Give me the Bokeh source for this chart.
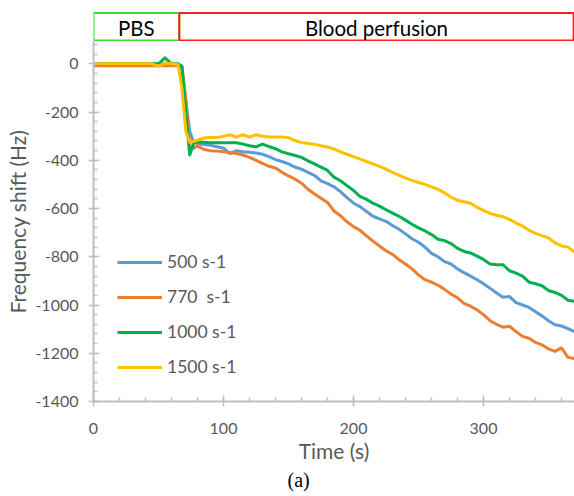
from bokeh.plotting import figure
from bokeh.layouts import column
from bokeh.models import (Range1d, FixedTicker, Legend, LegendItem, Title,
                          PrintfTickFormatter)
from bokeh.embed import file_html
from bokeh.resources import INLINE
from bokeh.core.properties import value

# ---------------- data ----------------
time_s = [0, 5, 10, 15, 20, 25, 30, 35, 40, 45, 50, 55, 60, 65, 68, 71, 74, 77,
          80, 85, 90, 95, 100, 105, 110, 115, 120, 125, 130, 135, 140, 145, 150,
          155, 160, 165, 170, 175, 180, 185, 190, 195, 200, 205, 210, 215, 220,
          225, 230, 235, 240, 245, 250, 255, 260, 265, 270, 275, 280, 285, 290,
          295, 300, 305, 310, 315, 320, 325, 330, 335, 340, 345, 350, 355, 360,
          365, 370]

shift_500 = [0, 0, 0, 0, 0, 0, 0, 0, 0, 0, 0, 0, 0, -2, -20, -150, -280, -325,
             -330, -335, -338, -344, -350, -372, -360, -365, -367, -370, -375, -385, -397, -405, -415,
             -428, -437, -450, -463, -485, -497, -510, -530, -555, -578, -592, -612, -632, -643,
             -653, -670, -686, -705, -725, -740, -760, -786, -800, -820, -830, -850, -866, -880,
             -895, -912, -930, -950, -968, -965, -990, -1000, -1010, -1028, -1045, -1065, -1082, -1087,
             -1098, -1110]

shift_770 = [-8, -8, -8, -8, -8, -8, -8, -8, -8, -8, -8, -8, -8, -8, -10, -150, -340, -350,
             -340, -355, -360, -362, -365, -368, -372, -378, -388, -400, -413, -425, -432, -450, -465,
             -478, -495, -520, -540, -557, -575, -610, -630, -655, -675, -690, -713, -735, -755,
             -775, -790, -812, -830, -850, -875, -895, -905, -918, -935, -955, -970, -993, -1005,
             -1020, -1040, -1065, -1080, -1092, -1088, -1110, -1130, -1138, -1155, -1165, -1182, -1192, -1178,
             -1217, -1222]

shift_1000 = [0, 0, 0, 0, 0, 0, 0, 0, 0, 0, 0, 25, 0, 0, -10, -200, -378, -330,
              -323, -325, -327, -327, -327, -327, -327, -333, -340, -344, -333, -343, -352, -365, -373,
              -380, -388, -402, -415, -428, -442, -470, -485, -505, -525, -550, -562, -578, -590,
              -605, -619, -632, -648, -665, -680, -693, -708, -727, -733, -745, -765, -778, -784,
              -797, -811, -830, -833, -833, -858, -868, -880, -905, -912, -920, -940, -948, -960,
              -980, -985]

shift_1500 = [0, 0, 0, 0, 0, 0, 0, 0, 0, 0, -10, 3, 0, -3, -100, -280, -325, -322,
              -316, -308, -305, -305, -300, -294, -304, -294, -304, -294, -300, -303, -303, -303, -306,
              -318, -326, -330, -334, -340, -345, -353, -365, -375, -385, -395, -405, -415, -425,
              -437, -450, -462, -473, -483, -492, -500, -510, -520, -535, -552, -566, -572, -578,
              -595, -608, -620, -628, -634, -645, -660, -672, -690, -703, -712, -722, -742, -755,
              -760, -780]

series_names = ["500 s-1", "770  s-1", "1000 s-1", "1500 s-1"]
series_colors = ["#5B9BD5", "#ED7D31", "#00B050", "#FFC000"]

x_major_ticks = [0, 100, 200, 300]
x_minor_ticks = list(range(0, 371, 20))
y_major_ticks = [-1400, -1200, -1000, -800, -600, -400, -200, 0]
y_minor_ticks = list(range(-1400, 81, 40))

phase_labels = ["PBS", "Blood perfusion"]
phase_start = [0, 66]
phase_end = [66, 369.3]
phase_colors = ["#33DD33", "#FF1E1E"]

# ---------------- style ----------------
FONT = "Lato"
GREY = "#595959"
AXIS = "#BFBFBF"

x_range = Range1d(0, 370)

# header with the two phase boxes
h = figure(width=574, height=41, output_backend="svg", toolbar_location=None,
           x_range=x_range, y_range=Range1d(0, 41),
           x_axis_location=None, y_axis_location=None,
           min_border_left=93, min_border_right=0, min_border_top=0, min_border_bottom=0)
h.outline_line_color = None
h.grid.visible = False
h.quad(left=phase_start, right=phase_end, bottom=[1, 1], top=[28.5, 28.5],
       fill_color=None, line_color=phase_colors, line_width=2)
h.text(x=[(a + b) / 2 for a, b in zip(phase_start, phase_end)], y=[14, 14],
       text=phase_labels, text_font=value(FONT), text_font_size="20.5px",
       text_color="black", text_align="center", text_baseline="middle")

# main chart
p = figure(width=574, height=455, output_backend="svg", toolbar_location=None,
           x_range=x_range, y_range=Range1d(-1400, 92.5),
           min_border_left=93, min_border_right=0, min_border_top=0, min_border_bottom=95)
p.outline_line_color = None
p.grid.visible = False

for ax, major, minor, bounds in ((p.xaxis[0], x_major_ticks, x_minor_ticks, (0, 370)),
                                 (p.yaxis[0], y_major_ticks, y_minor_ticks, (-1400, 92.5))):
    ax.ticker = FixedTicker(ticks=major, minor_ticks=minor)
    ax.formatter = PrintfTickFormatter(format="%d")
    ax.bounds = bounds
    ax.axis_line_color = AXIS
    ax.axis_line_width = 2
    ax.major_tick_line_color = AXIS
    ax.major_tick_line_width = 1.5
    ax.minor_tick_line_color = AXIS
    ax.minor_tick_line_width = 1.5
    ax.major_tick_in = 6
    ax.major_tick_out = 5
    ax.minor_tick_in = 4
    ax.minor_tick_out = 0
    ax.major_label_text_font = FONT
    ax.major_label_text_font_size = "16px"
    ax.major_label_text_color = GREY
    ax.axis_label_text_font = FONT
    ax.axis_label_text_font_size = "21px"
    ax.axis_label_text_font_style = "normal"
    ax.axis_label_text_color = GREY

p.yaxis.major_label_standoff = 10
p.xaxis.major_label_standoff = 16
p.xaxis.axis_label = "Time (s)"
p.xaxis.axis_label_standoff = 1
p.yaxis.axis_label = "Frequency shift (Hz)"
p.yaxis.axis_label_standoff = 2

series = [shift_500, shift_770, shift_1000, shift_1500]
items = []
for name, col, ys in zip(series_names, series_colors, series):
    r = p.line(time_s, ys, line_color=col, line_width=3, line_join="round")
    items.append(LegendItem(label=name, renderers=[r]))

legend = Legend(items=items, location=(24, 24), padding=0, margin=0, spacing=14,
                label_height=20, glyph_height=20, glyph_width=45, label_standoff=5,
                label_text_font=FONT, label_text_font_size="17.5px",
                label_text_color=GREY, border_line_color=None,
                background_fill_alpha=0)
p.add_layout(legend)

caption = Title(text="(a)", align="left", offset=194, standoff=2,
                text_font="Liberation Serif", text_font_size="20px",
                text_font_style="normal", text_color="black")
p.add_layout(caption, "below")

layout = column(h, p, spacing=0)
open("out.html", "w").write(file_html(layout, INLINE))
